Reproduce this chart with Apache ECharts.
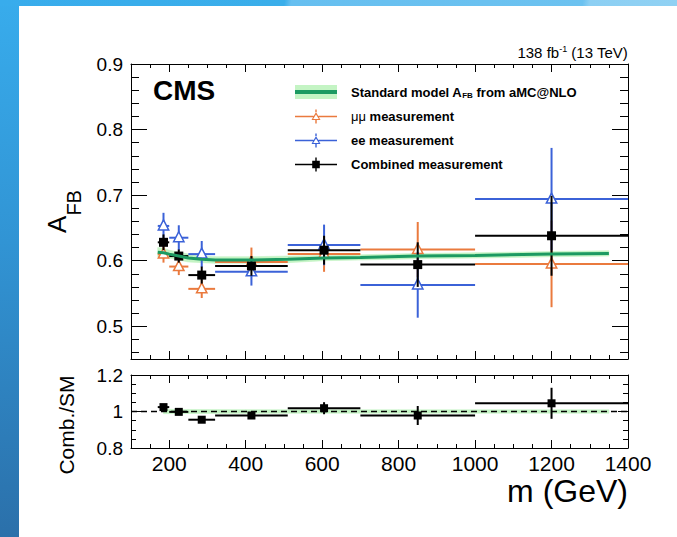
<!DOCTYPE html>
<html>
<head>
<meta charset="utf-8">
<script src="https://cdn.jsdelivr.net/npm/echarts/dist/echarts.min.js"></script>
<style>
html,body{margin:0;padding:0;background:#fff;}
#wrap{position:relative;width:677px;height:537px;overflow:hidden;background:#fff;}
#leftStrip{position:absolute;left:0;top:0;width:19px;height:537px;background:linear-gradient(180deg,#38acec 0%,#3194d4 45%,#2b70aa 100%);}
#topStrip{position:absolute;left:0;top:0;width:677px;height:6px;background:linear-gradient(100deg,#38acec 0%,#3aaeea 42%,#66bff0 43%,#6cc2f0 86%,#8ccff3 87%,#90d1f3 100%);}
#chart{position:absolute;left:0;top:0;width:677px;height:537px;}
</style>
</head>
<body>
<div id="wrap">
  <div id="leftStrip"></div>
  <div id="topStrip"></div>
  <div id="chart"></div>
</div>
<script>
// ---------------- data ----------------
const massPoint = [185, 225, 285, 415, 605, 850, 1200];
const binLow    = [170, 200, 250, 320, 510, 700, 1000];
const binHigh   = [200, 250, 320, 510, 700, 1000, 1400];

const combined    = [0.628, 0.607, 0.578, 0.592, 0.616, 0.594, 0.638];
const combinedErr = [0.012, 0.010, 0.013, 0.015, 0.022, 0.034, 0.061];

const mumu    = [0.610, 0.591, 0.557, 0.598, 0.610, 0.617, 0.595];
const mumuErr = [0.013, 0.013, 0.014, 0.022, 0.027, 0.042, 0.066];

const ee    = [0.653, 0.635, 0.610, 0.583, 0.624, 0.563, 0.694];
const eeErr = [0.020, 0.019, 0.020, 0.021, 0.031, 0.050, 0.078];

const smMass = [170, 185, 200, 225, 250, 285, 320, 415, 510, 605, 700, 850, 1000, 1200, 1350];
const smVal  = [0.613, 0.612, 0.610, 0.607, 0.604, 0.602, 0.601, 0.601, 0.602, 0.604, 0.605, 0.607, 0.608, 0.610, 0.611];
const smErr  = [0.007, 0.007, 0.006, 0.006, 0.006, 0.005, 0.005, 0.005, 0.005, 0.004, 0.004, 0.004, 0.004, 0.004, 0.004];

const ratio    = [1.024, 0.998, 0.955, 0.978, 1.018, 0.978, 1.045];
const ratioErr = [0.010, 0.010, 0.012, 0.015, 0.033, 0.052, 0.085];

const ratioBandMass   = [185, 250, 400, 600, 800, 1000, 1200, 1350];
const ratioBandCenter = [1, 1, 1, 1, 1, 1, 1, 1];
const ratioBandErr    = [0.012, 0.011, 0.010, 0.009, 0.009, 0.009, 0.009, 0.009];

const refLine = [[100, 1], [1400, 1]];

const xMajorTicks = [200, 400, 600, 800, 1000, 1200, 1400];
const xMinorTicks = [150, 200, 250, 300, 350, 400, 450, 500, 550, 600, 650, 700, 750, 800, 850, 900, 950, 1000, 1050, 1100, 1150, 1200, 1250, 1300, 1350];
const yMainMajor = [0.5, 0.6, 0.7, 0.8, 0.9];
const yMainMinor = [0.46, 0.48, 0.52, 0.54, 0.56, 0.58, 0.62, 0.64, 0.66, 0.68, 0.72, 0.74, 0.76, 0.78, 0.82, 0.84, 0.86, 0.88];
const yRatioMajor = [0.8, 1, 1.2];
const yRatioMinor = [0.85, 0.9, 0.95, 1.05, 1.1, 1.15];

const NAME_SM = 'Standard model AFB from aMC@NLO';
const NAME_MU = 'μμ measurement';
const NAME_EE = 'ee measurement';
const NAME_CB = 'Combined measurement';

// ---------------- style ----------------
const FF = '"Liberation Sans", Arial, Helvetica, sans-serif';
const ORANGE = '#ea7a3e';
const BLUE = '#3b62d8';
const BLACK = '#000000';
const GREEN = '#1c9a62';
const BAND = '#c4f4c4';

function errItems(vals, errs) {
  return massPoint.map((m, i) => [m, vals[i], binLow[i], binHigh[i], errs[i]]);
}

function errRender(marker, color, size) {
  return function (params, api) {
    const x = api.value(0), y = api.value(1), lo = api.value(2), hi = api.value(3), e = api.value(4);
    const pL = api.coord([lo, y]), pR = api.coord([hi, y]);
    const pT = api.coord([x, y + e]), pB = api.coord([x, y - e]);
    const c = api.coord([x, y]);
    const children = [
      {type: 'line', shape: {x1: pL[0], y1: pL[1], x2: pR[0], y2: pR[1]}, style: {stroke: color, lineWidth: 2}},
      {type: 'line', shape: {x1: pT[0], y1: pT[1], x2: pB[0], y2: pB[1]}, style: {stroke: color, lineWidth: 2}}
    ];
    if (marker === 'square') {
      children.push({type: 'rect', shape: {x: c[0] - size / 2, y: c[1] - size / 2, width: size, height: size}, style: {fill: color}});
    } else {
      const h = size;
      children.push({type: 'polygon', shape: {points: [[c[0], c[1] - h * 0.6], [c[0] + h * 0.52, c[1] + h * 0.4], [c[0] - h * 0.52, c[1] + h * 0.4]]},
        style: {fill: '#ffffff', stroke: color, lineWidth: 1.5}});
    }
    return {type: 'group', children: children};
  };
}

function bandRender(mArr, cArr, eArr, color) {
  return function (params, api) {
    const i = params.dataIndex;
    if (i >= mArr.length - 1) return null;
    const p1 = api.coord([mArr[i], cArr[i] + eArr[i]]);
    const p2 = api.coord([mArr[i + 1], cArr[i + 1] + eArr[i + 1]]);
    const p3 = api.coord([mArr[i + 1], cArr[i + 1] - eArr[i + 1]]);
    const p4 = api.coord([mArr[i], cArr[i] - eArr[i]]);
    return {type: 'polygon', shape: {points: [p1, p2, p3, p4]}, style: {fill: color, stroke: color, lineWidth: 0.6}};
  };
}

function mkX(grid, pos, ticks, len, showLine, extra) {
  return Object.assign({
    type: 'value', gridIndex: grid, position: pos, min: 100, max: 1400,
    axisLine: {show: showLine, onZero: false, lineStyle: {color: '#000', width: 1}},
    axisTick: {show: true, inside: true, length: len, customValues: ticks, lineStyle: {color: '#000', width: 1}},
    axisLabel: {show: false},
    splitLine: {show: false}
  }, extra || {});
}
function mkY(grid, pos, min, max, ticks, len, showLine, extra) {
  return Object.assign({
    type: 'value', gridIndex: grid, position: pos, min: min, max: max,
    axisLine: {show: showLine, onZero: false, lineStyle: {color: '#000', width: 1}},
    axisTick: {show: true, inside: true, length: len, customValues: ticks, lineStyle: {color: '#000', width: 1}},
    axisLabel: {show: false},
    splitLine: {show: false}
  }, extra || {});
}

const triPath = 'path://M0,6.3H18.6V7.7H0Z M23.4,6.3H42V7.7H23.4Z M20.3,0H21.7V2.6H20.3Z M20.3,10.4H21.7V14H20.3Z M21,2.5L25.5,10.5L16.5,10.5Z M21,4.9L18.2,9.4L23.8,9.4Z';
const sqPath = 'path://M0,6.3H42V7.7H0Z M20.3,0H21.7V14H20.3Z M17.2,3.2H24.8V10.8H17.2Z';
const rectPath = 'path://M0,0H42V14H0Z';

const chart = echarts.init(document.getElementById('chart'), null, {renderer: 'svg'});

const option = {
  backgroundColor: 'transparent',
  animation: false,
  title: [
    {text: '138 fb{sup|-1} (13 TeV)', right: 49, top: 44, padding: 0,
     textStyle: {fontFamily: FF, fontSize: 15, fontWeight: 'normal', color: '#000',
       rich: {sup: {fontFamily: FF, fontSize: 9, color: '#000', padding: [0, 0, 8, 0]}}}},
    {text: 'CMS', left: 153, top: 76, padding: 0,
     textStyle: {fontFamily: FF, fontSize: 28, fontWeight: 'bold', color: '#000'}}
  ],
  legend: {
    orient: 'vertical', left: 290, top: 80, itemWidth: 42, itemHeight: 14, itemGap: 10,
    selectedMode: false,
    data: [
      {name: NAME_SM, icon: rectPath, itemStyle: {color: new echarts.graphic.LinearGradient(0, 0, 0, 1, [
        {offset: 0, color: BAND}, {offset: 0.38, color: BAND}, {offset: 0.38, color: GREEN},
        {offset: 0.62, color: GREEN}, {offset: 0.62, color: BAND}, {offset: 1, color: BAND}])}},
      {name: NAME_MU, icon: triPath, itemStyle: {color: ORANGE}},
      {name: NAME_EE, icon: triPath, itemStyle: {color: BLUE}},
      {name: NAME_CB, icon: sqPath, itemStyle: {color: BLACK}}
    ],
    formatter: function (name) {
      if (name === NAME_SM) return 'Standard model A{sub|FB} from aMC@NLO';
      if (name === NAME_MU) return '{mu|μμ} measurement';
      return name;
    },
    textStyle: {fontFamily: FF, fontSize: 13, fontWeight: 'bold', color: '#000', padding: [0, 0, 0, 9],
      rich: {
        sub: {fontFamily: FF, fontSize: 8, fontWeight: 'bold', color: '#000', padding: [7, 0, 0, 0]},
        mu: {fontFamily: FF, fontSize: 13, fontWeight: 'normal', color: '#000'}
      }}
  },
  grid: [
    {left: 131, top: 64, width: 497, height: 295},
    {left: 131, top: 375, width: 497, height: 73}
  ],
  xAxis: [
    mkX(0, 'bottom', xMajorTicks, 8, true),
    mkX(0, 'bottom', xMinorTicks, 4, false),
    mkX(0, 'top', xMajorTicks, 8, true),
    mkX(0, 'top', xMinorTicks, 4, false),
    mkX(1, 'bottom', xMajorTicks, 8, true, {
      axisLabel: {show: true, customValues: xMajorTicks, formatter: function (v) { return String(v); },
        fontFamily: FF, fontSize: 21, color: '#000', margin: 5},
      name: 'm (GeV)', nameLocation: 'end', nameGap: 0,
      nameTextStyle: {fontFamily: FF, fontSize: 32, color: '#000', align: 'right', verticalAlign: 'top', padding: [27, 0, 0, 0]}
    }),
    mkX(1, 'bottom', xMinorTicks, 4, false),
    mkX(1, 'top', xMajorTicks, 8, true),
    mkX(1, 'top', xMinorTicks, 4, false)
  ],
  yAxis: [
    mkY(0, 'left', 0.45, 0.9, yMainMajor, 16, true, {
      axisLabel: {show: true, customValues: yMainMajor, fontFamily: FF, fontSize: 19, color: '#000', margin: 8},
      name: 'A{sub|FB}', nameLocation: 'middle', nameGap: 47,
      nameTextStyle: {fontFamily: FF, fontSize: 26, color: '#000',
        rich: {sub: {fontFamily: FF, fontSize: 20, color: '#000', padding: [34, 0, 0, 0]}}}
    }),
    mkY(0, 'left', 0.45, 0.9, yMainMinor, 8, false),
    mkY(0, 'right', 0.45, 0.9, yMainMajor, 16, true),
    mkY(0, 'right', 0.45, 0.9, yMainMinor, 8, false),
    mkY(1, 'left', 0.8, 1.2, yRatioMajor, 10, true, {
      axisLabel: {show: true, customValues: yRatioMajor, fontFamily: FF, fontSize: 19, color: '#000', margin: 8},
      name: 'Comb./SM', nameLocation: 'middle', nameGap: 54,
      nameTextStyle: {fontFamily: FF, fontSize: 21, color: '#000', padding: [0, 27, 0, 0]}
    }),
    mkY(1, 'left', 0.8, 1.2, yRatioMinor, 5, false),
    mkY(1, 'right', 0.8, 1.2, yRatioMajor, 10, true),
    mkY(1, 'right', 0.8, 1.2, yRatioMinor, 5, false)
  ],
  series: [
    {name: NAME_SM, type: 'custom', xAxisIndex: 0, yAxisIndex: 0, clip: true,
     itemStyle: {color: BAND},
     data: smMass.map((m, i) => [m, smVal[i]]),
     renderItem: bandRender(smMass, smVal, smErr, BAND)},
    {name: 'SM central', type: 'line', xAxisIndex: 0, yAxisIndex: 0, symbol: 'none',
     lineStyle: {color: GREEN, width: 3}, itemStyle: {color: GREEN},
     data: smMass.map((m, i) => [m, smVal[i]])},
    {name: NAME_MU, type: 'custom', xAxisIndex: 0, yAxisIndex: 0, clip: true,
     itemStyle: {color: ORANGE}, data: errItems(mumu, mumuErr), renderItem: errRender('tri', ORANGE, 10)},
    {name: NAME_EE, type: 'custom', xAxisIndex: 0, yAxisIndex: 0, clip: true,
     itemStyle: {color: BLUE}, data: errItems(ee, eeErr), renderItem: errRender('tri', BLUE, 10)},
    {name: NAME_CB, type: 'custom', xAxisIndex: 0, yAxisIndex: 0, clip: true,
     itemStyle: {color: BLACK}, data: errItems(combined, combinedErr), renderItem: errRender('square', BLACK, 9)},
    {name: 'ratio band', type: 'custom', xAxisIndex: 4, yAxisIndex: 4, clip: true,
     itemStyle: {color: BAND},
     data: ratioBandMass.map((m, i) => [m, ratioBandCenter[i]]),
     renderItem: bandRender(ratioBandMass, ratioBandCenter, ratioBandErr, BAND)},
    {name: 'unity', type: 'line', xAxisIndex: 4, yAxisIndex: 4, symbol: 'none',
     lineStyle: {color: '#000', width: 1.5, type: [6, 4]}, data: refLine},
    {name: 'Comb./SM', type: 'custom', xAxisIndex: 4, yAxisIndex: 4, clip: true,
     itemStyle: {color: BLACK}, data: errItems(ratio, ratioErr), renderItem: errRender('square', BLACK, 8)}
  ]
};
chart.setOption(option);
</script>
</body>
</html>
